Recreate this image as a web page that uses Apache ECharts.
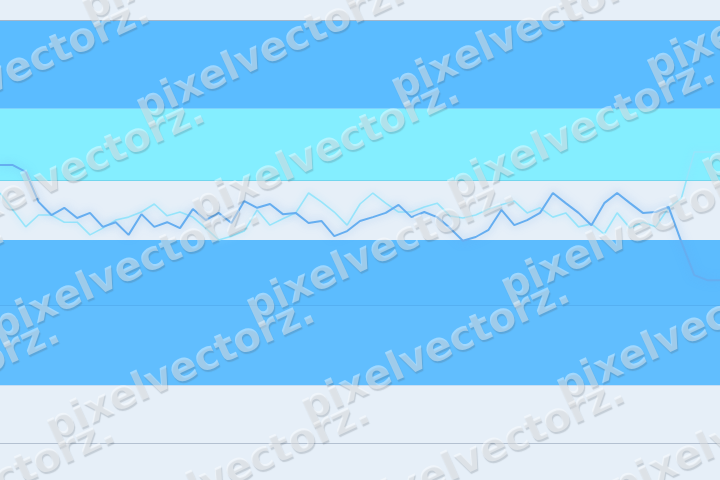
<!DOCTYPE html>
<html>
<head>
<meta charset="utf-8">
<script src="https://cdn.jsdelivr.net/npm/echarts@6/dist/echarts.min.js"></script>
<style>
html,body{margin:0;padding:0;background:#e6eff8;}
#chart{width:720px;height:480px;}
</style>
</head>
<body>
<div id="chart"></div>
<script>
// categories (57 evenly spaced points)
const categories = Array.from({length: 57}, (_, i) => String(i + 1));

// series values
const seriesDark = [65.7,65.7,64.1,57.0,53.9,55.6,53.2,54.4,51.1,52.2,49.2,54.1,51.1,52.2,50.8,55.3,52.7,54.4,52.0,57.2,55.6,56.5,54.1,54.4,52.0,52.5,48.9,50.1,52.5,53.4,54.4,56.3,53.4,54.6,53.4,50.8,47.8,48.7,50.4,55.1,51.5,52.7,54.4,59.1,56.7,54.4,51.5,56.7,59.1,56.7,54.4,54.6,55.8,47.5,39.7,38.5,38.5];
const seriesLight = [59.1,55.1,51.1,53.9,53.9,52.2,52.2,49.2,50.8,52.7,53.4,54.6,56.5,53.7,54.6,53.4,50.8,48.0,48.9,50.1,55.1,51.5,53.0,54.4,59.1,57.0,54.6,51.5,56.5,59.1,56.7,54.6,54.6,55.8,56.7,53.7,53.2,53.9,55.3,56.3,57.2,54.4,55.6,53.4,54.4,51.1,51.8,49.4,54.4,50.8,52.2,51.1,55.6,57.9,68.8,68.8,68.8];

// horizontal bands [from, to]
const bandBlueTop = [79, 100];
const bandCyan = [62, 79];
const bandBlueMid = [32.6, 48];
const bandBlueLow = [13.7, 32.6];

const watermarkWord = 'pixelvectorz.';

const chart = echarts.init(document.getElementById('chart'), null, {renderer: 'canvas'});

// decorative watermark: tiled, each word tilted
const wm = [];
const base = [2, 350], stepA = [255, -20], stepB = [55, 100];
for (let j = -4; j <= 2; j++) {
  for (let i = -1; i <= 4; i++) {
    const x = base[0] + i * stepA[0] + j * stepB[0];
    const y = base[1] + i * stepA[1] + j * stepB[1];
    if (x < -300 || x > 740 || y < -20 || y > 640) continue;
    wm.push({
      type: 'text', x: x, y: y, rotation: 0.43, z: 100, silent: true,
      style: {
        text: watermarkWord,
        font: 'bold 40px "DejaVu Sans"',
        fill: 'rgba(255,255,255,0.42)',
        textAlign: 'left',
        textVerticalAlign: 'bottom',
        textShadowColor: 'rgba(70,80,90,0.5)',
        textShadowBlur: 1,
        textShadowOffsetX: 1,
        textShadowOffsetY: 2
      }
    });
  }
}

const option = {
  backgroundColor: '#e6eff8',
  animation: false,
  grid: {left: 0, right: 0, top: 20, bottom: 37},
  xAxis: {
    type: 'category', data: categories, boundaryGap: false,
    axisLine: {show: true, lineStyle: {color: '#b4c1d1', width: 1}},
    axisTick: {show: false}, axisLabel: {show: false}, splitLine: {show: false}
  },
  yAxis: {
    type: 'value', min: 0, max: 100,
    axisLine: {show: false}, axisTick: {show: false}, axisLabel: {show: false}, splitLine: {show: false}
  },
  graphic: wm,
  series: [
    {
      name: 'B', type: 'line', data: seriesLight, symbol: 'none', z: 3,
      lineStyle: {color: '#97e5fb', width: 1.6, shadowColor: 'rgba(150,225,255,0.6)', shadowBlur: 7},
      markArea: {
        silent: true,
        data: [
          [{yAxis: bandBlueTop[0], itemStyle: {color: '#5bbcff'}}, {yAxis: bandBlueTop[1]}],
          [{yAxis: bandCyan[0], itemStyle: {color: '#84eeff'}}, {yAxis: bandCyan[1]}],
          [{yAxis: bandBlueMid[0], itemStyle: {color: '#5cbcfe'}}, {yAxis: bandBlueMid[1]}],
          [{yAxis: bandBlueLow[0], itemStyle: {color: '#61befe'}}, {yAxis: bandBlueLow[1]}]
        ]
      },
      markLine: {
        silent: true, symbol: 'none', label: {show: false},
        data: [
          {yAxis: bandBlueTop[1], lineStyle: {color: '#a3b6ca', width: 1, type: 'solid'}},
          {yAxis: bandCyan[0], lineStyle: {color: '#72d6ee', width: 1, type: 'solid'}},
          {yAxis: bandBlueLow[1], lineStyle: {color: '#55b0f2', width: 1, type: 'solid'}},
          {yAxis: bandBlueLow[0], lineStyle: {color: '#c5def5', width: 1, type: 'solid'}}
        ]
      }
    },
    {
      name: 'A', type: 'line', data: seriesDark, symbol: 'none', z: 4,
      lineStyle: {color: '#66aef0', width: 2, shadowColor: 'rgba(100,170,240,0.55)', shadowBlur: 9}
    }
  ]
};
chart.setOption(option);
</script>
</body>
</html>
